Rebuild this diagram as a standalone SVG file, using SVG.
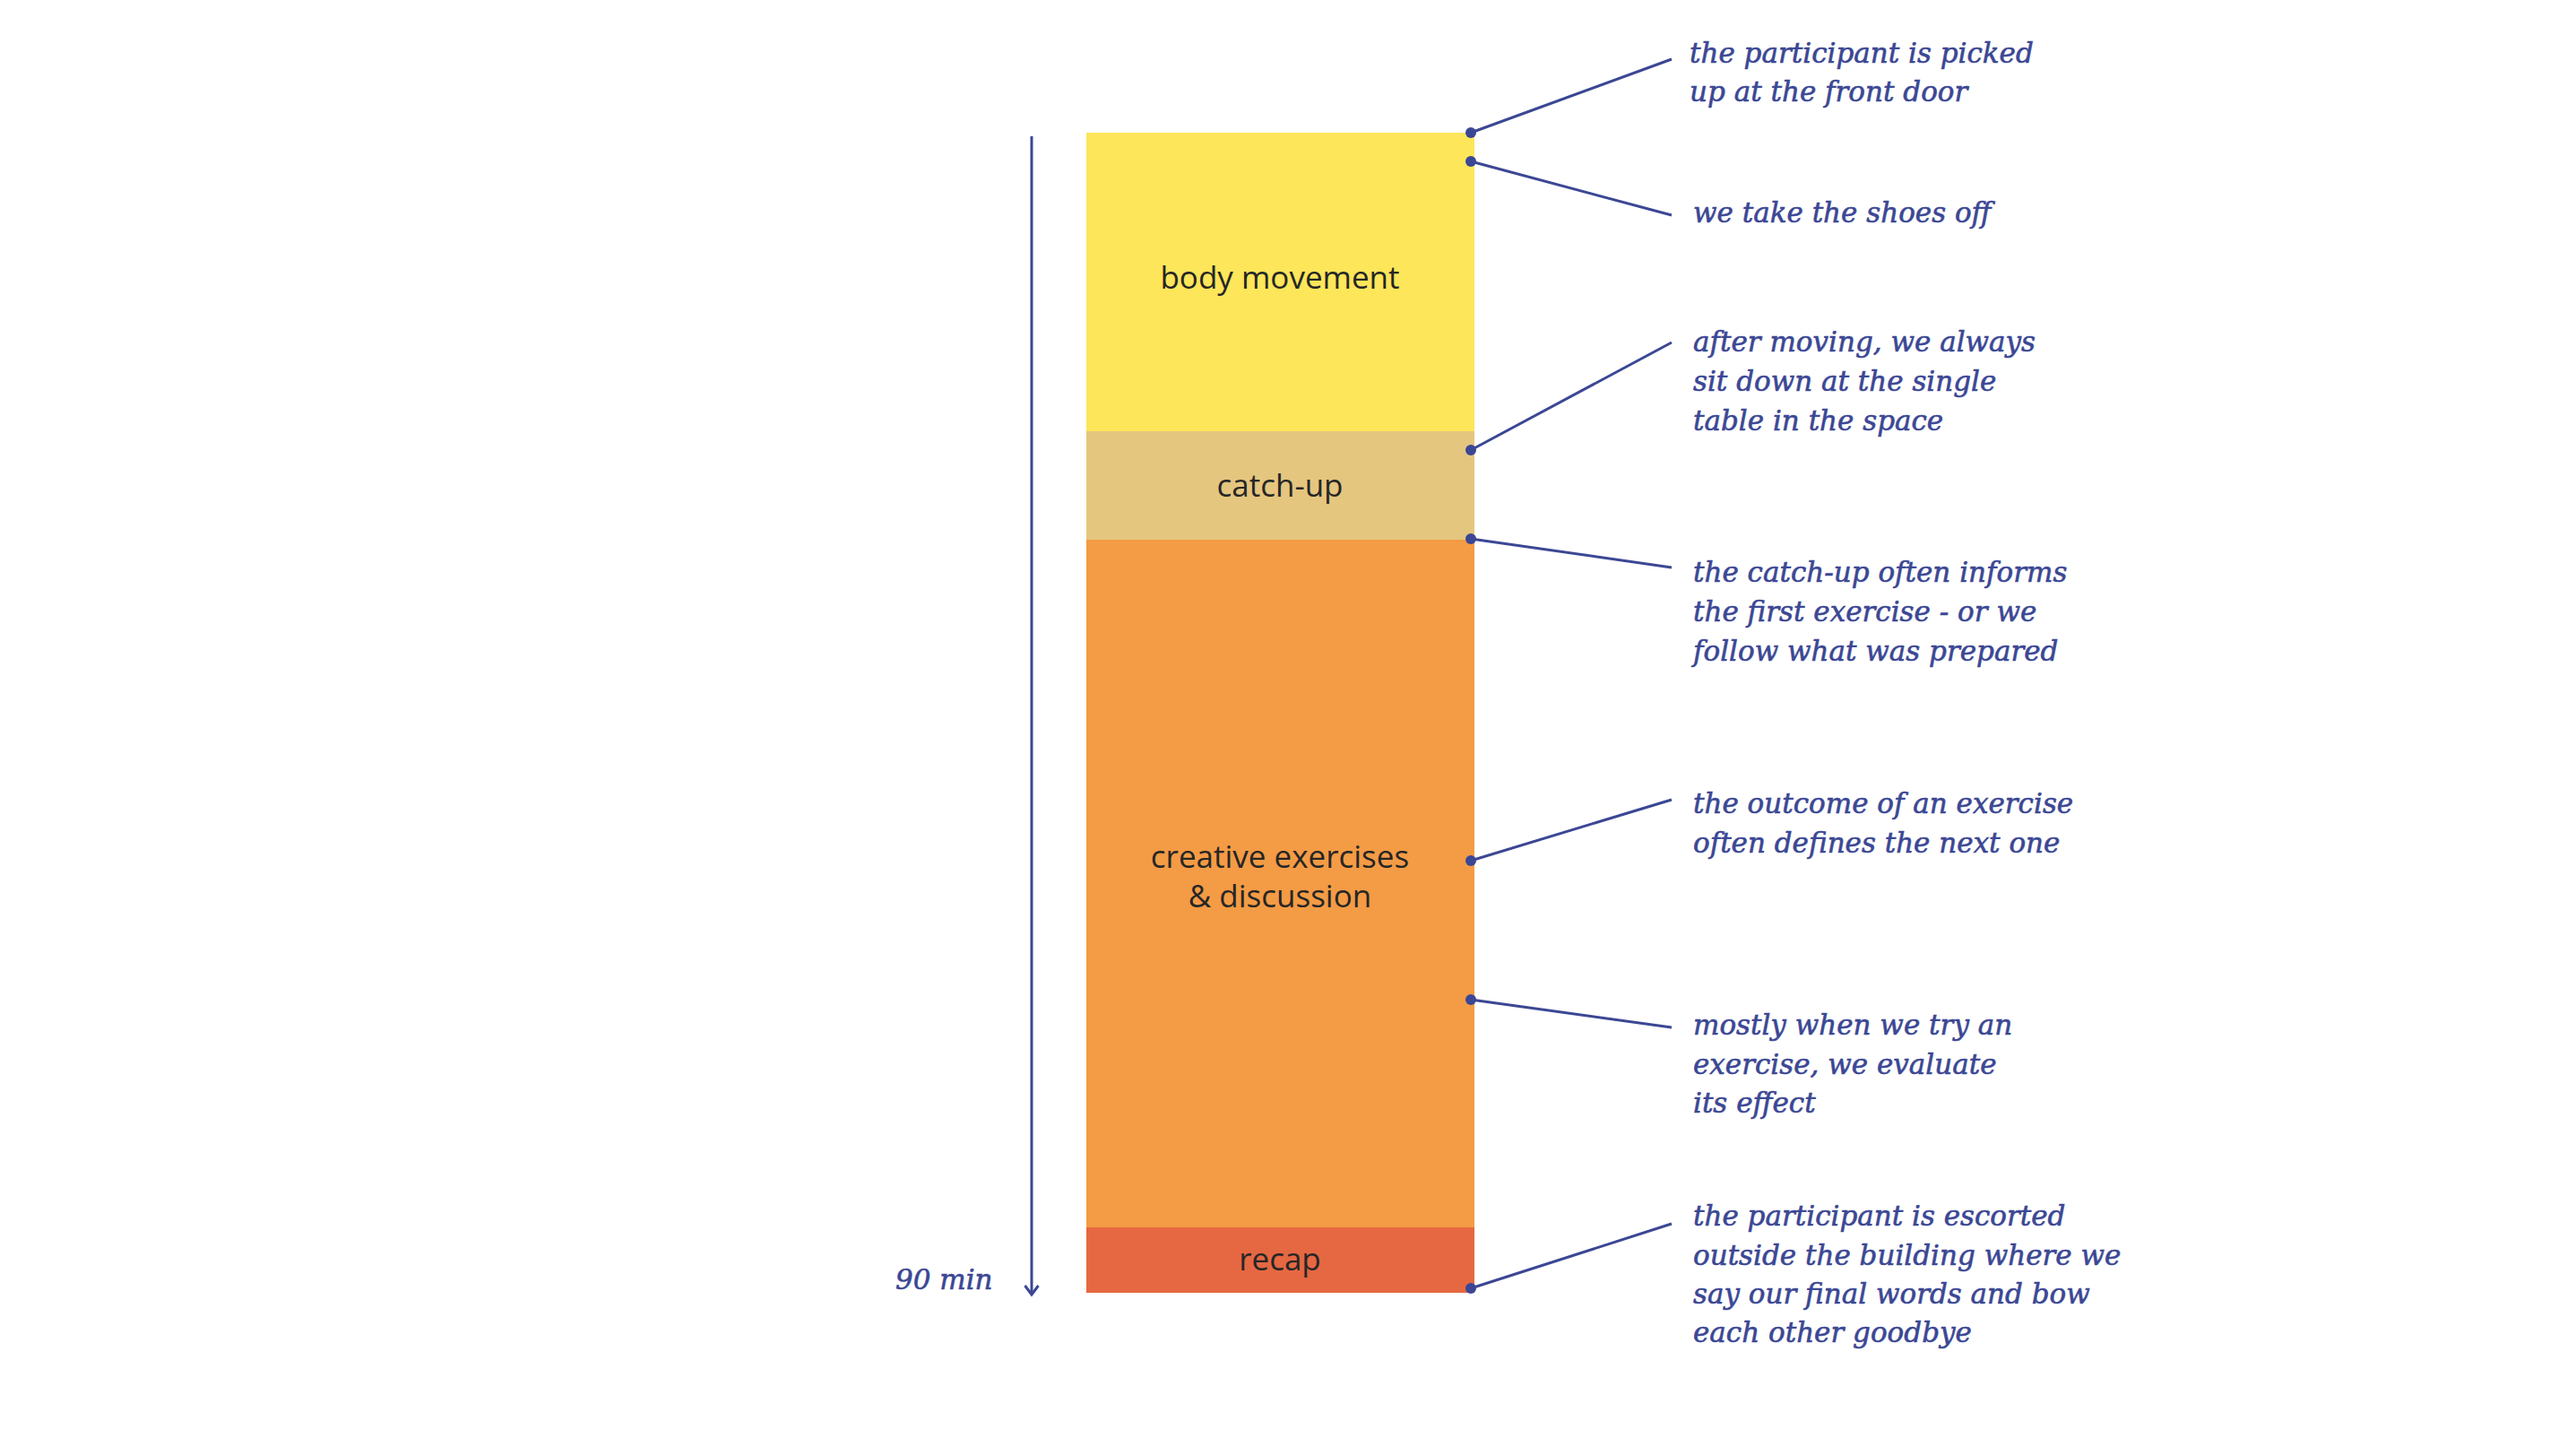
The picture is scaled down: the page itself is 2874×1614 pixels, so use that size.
<svg xmlns="http://www.w3.org/2000/svg" width="2874" height="1614" viewBox="0 0 2874 1614">
<style>
.lbl{font-family:"Open Sans","Noto Sans",sans-serif;font-size:35px;fill:#262626;text-anchor:middle}
.note{font-family:"DejaVu Serif",serif;font-style:italic;font-size:31px;fill:#3b4794;stroke:#3b4794;stroke-width:0.6}
.conn{stroke:#3b4794;stroke-width:3;fill:none}
.dot{fill:#3b4794}
</style>
<rect width="2874" height="1614" fill="#ffffff"/>
<g id="timeline">
<line class="conn" x1="1151" y1="152" x2="1151" y2="1443"/>
<polyline class="conn" points="1143.5,1434 1151,1444 1158.5,1434" stroke-linejoin="miter"/>
<text class="note" x="999" y="1438">90 min</text>
</g>
<g id="body-movement">
<rect x="1212" y="148" width="433" height="333" fill="#fde65a"/>
<text class="lbl" x="1428" y="322">body movement</text>
</g>
<g id="catch-up">
<rect x="1212" y="481" width="433" height="121" fill="#e5c67f"/>
<text class="lbl" x="1428" y="554">catch-up</text>
</g>
<g id="creative-exercises">
<rect x="1212" y="602" width="433" height="767" fill="#f49b45"/>
<text class="lbl" x="1428" y="968">creative exercises</text>
<text class="lbl" x="1428" y="1012">&amp; discussion</text>
</g>
<g id="recap">
<rect x="1212" y="1369" width="433" height="73" fill="#e56842"/>
<text class="lbl" x="1428" y="1417">recap</text>
</g>
<g id="connectors">
<line class="conn" x1="1641" y1="148" x2="1865" y2="66"/>
<circle class="dot" cx="1641" cy="148" r="6"/>
<line class="conn" x1="1641" y1="180" x2="1865" y2="240"/>
<circle class="dot" cx="1641" cy="180" r="6"/>
<line class="conn" x1="1641" y1="502" x2="1865" y2="382"/>
<circle class="dot" cx="1641" cy="502" r="6"/>
<line class="conn" x1="1641" y1="601" x2="1865" y2="633"/>
<circle class="dot" cx="1641" cy="601" r="6"/>
<line class="conn" x1="1641" y1="960" x2="1865" y2="892"/>
<circle class="dot" cx="1641" cy="960" r="6"/>
<line class="conn" x1="1641" y1="1115" x2="1865" y2="1146"/>
<circle class="dot" cx="1641" cy="1115" r="6"/>
<line class="conn" x1="1641" y1="1437" x2="1865" y2="1365"/>
<circle class="dot" cx="1641" cy="1437" r="6"/>
</g>
<g id="note-pickup">
<text class="note" x="1885" y="70">the participant is picked</text>
<text class="note" x="1885" y="113">up at the front door</text>
</g>
<g id="note-shoes">
<text class="note" x="1889" y="248">we take the shoes off</text>
</g>
<g id="note-table">
<text class="note" x="1889" y="392">after moving, we always</text>
<text class="note" x="1889" y="436">sit down at the single</text>
<text class="note" x="1889" y="480">table in the space</text>
</g>
<g id="note-informs">
<text class="note" x="1889" y="649">the catch-up often informs</text>
<text class="note" x="1889" y="693">the first exercise - or we</text>
<text class="note" x="1889" y="737">follow what was prepared</text>
</g>
<g id="note-outcome">
<text class="note" x="1889" y="907">the outcome of an exercise</text>
<text class="note" x="1889" y="951">often defines the next one</text>
</g>
<g id="note-evaluate">
<text class="note" x="1889" y="1154">mostly when we try an</text>
<text class="note" x="1889" y="1198">exercise, we evaluate</text>
<text class="note" x="1889" y="1241">its effect</text>
</g>
<g id="note-escorted">
<text class="note" x="1889" y="1367">the participant is escorted</text>
<text class="note" x="1889" y="1411">outside the building where we</text>
<text class="note" x="1889" y="1454">say our final words and bow</text>
<text class="note" x="1889" y="1497">each other goodbye</text>
</g>
</svg>
